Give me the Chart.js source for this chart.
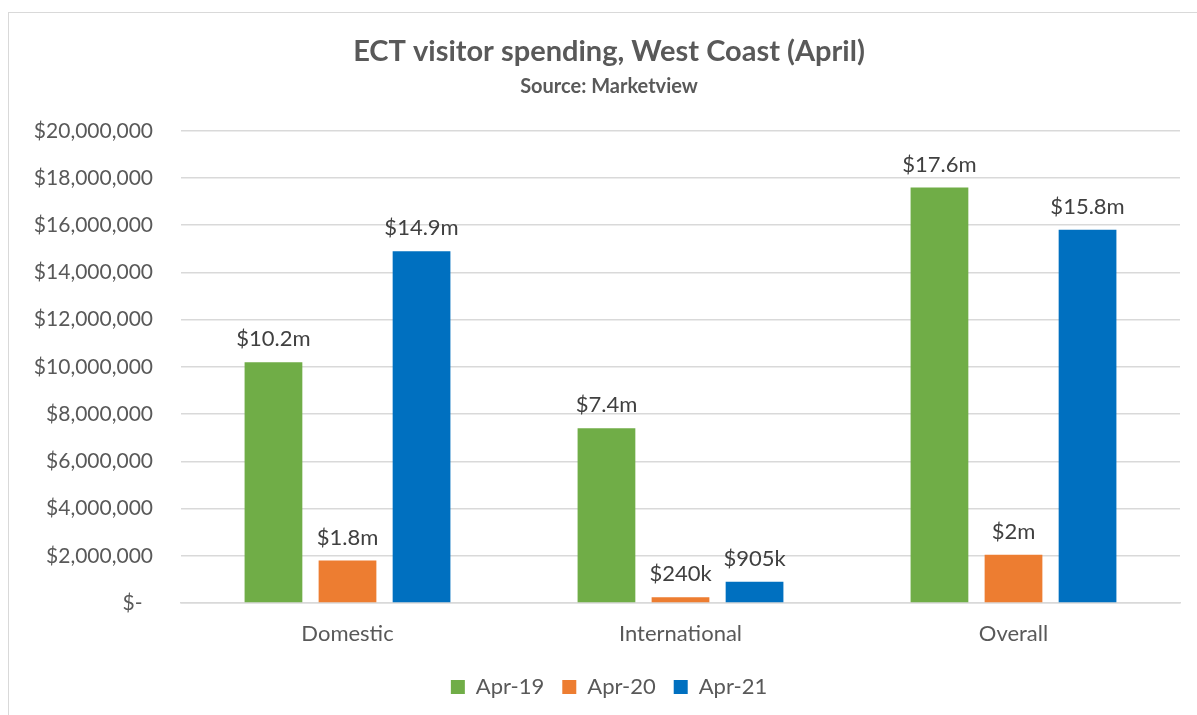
<!DOCTYPE html>
<html>
<head>
<meta charset="utf-8">
<script src="https://cdn.jsdelivr.net/npm/chart.js@4.4.1/dist/chart.umd.min.js"></script>
<style>
  html, body { margin: 0; padding: 0; background: #ffffff; overflow: hidden; }
  #frame { position: absolute; left: 8px; top: 12px; width: 1200px; height: 720px; border: 1px solid #d9d9d9; background: #fff; }
  #frame canvas { display: block; }
</style>
</head>
<body>
<div id="frame"><canvas id="c" width="1200" height="720"></canvas></div>
<script>
const categories = ["Domestic", "International", "Overall"];
const seriesNames = ["Apr-19", "Apr-20", "Apr-21"];
const apr19 = [10200000, 7400000, 17600000];
const apr20 = [1800000, 240000, 2040000];
const apr21 = [14900000, 905000, 15805000];
const yTickMax = 20000000;
const yTickStep = 2000000;

const colors = ["#70AD47", "#ED7D31", "#0070C0"];
const FONT = "Lato, 'Open Sans', sans-serif";
const TEXT = "#595959";

function money(v) {
  if (v === 0) return "$-\u2002";
  return "$" + Math.round(v).toLocaleString("en-US");
}
function shortMoney(v) {
  if (v >= 1000000) return "$" + (Math.round(v / 100000) / 10) + "m";
  return "$" + Math.round(v / 1000) + "k";
}

const dataLabels = {
  id: "dataLabels",
  afterDatasetsDraw(chart) {
    const ctx = chart.ctx;
    ctx.save();
    ctx.font = "22px " + FONT;
    ctx.fillStyle = "#404040";
    ctx.textAlign = "center";
    ctx.textBaseline = "bottom";
    chart.data.datasets.forEach((ds, i) => {
      const meta = chart.getDatasetMeta(i);
      meta.data.forEach((el, j) => {
        ctx.fillText(shortMoney(ds.data[j]), el.x, el.y - 12);
      });
    });
    ctx.restore();
  }
};

new Chart(document.getElementById("c"), {
  type: "bar",
  data: {
    labels: categories,
    datasets: [
      { label: seriesNames[0], data: apr19, backgroundColor: colors[0] },
      { label: seriesNames[1], data: apr20, backgroundColor: colors[1] },
      { label: seriesNames[2], data: apr21, backgroundColor: colors[2] }
    ]
  },
  options: {
    responsive: false,
    animation: false,
    devicePixelRatio: 1,
    layout: { padding: { left: 0, right: 0, top: 0, bottom: 25 } },
    datasets: { bar: { categoryPercentage: 0.667, barPercentage: 0.78 } },
    scales: {
      x: {
        grid: { display: false, drawTicks: false },
        border: { display: true, color: "#d9d9d9", width: 1.5 },
        ticks: { color: TEXT, font: { family: FONT, size: 22 }, padding: 18 },
        afterFit(s) { s.height = 55; }
      },
      y: {
        min: 0, max: yTickMax,
        grid: { color: "#d9d9d9", lineWidth: 1.5, drawTicks: false },
        border: { display: false },
        ticks: {
          stepSize: yTickStep,
          color: TEXT,
          font: { family: FONT, size: 21 },
          padding: 28,
          callback: (v) => money(v)
        },
        afterFit(s) { s.width = 172; }
      },
      yRight: {
        position: "right",
        display: true,
        min: 0, max: yTickMax,
        grid: { display: false, drawTicks: false },
        border: { display: false },
        ticks: { display: false },
        afterFit(s) { s.width = 29; }
      }
    },
    plugins: {
      title: {
        display: true,
        text: "ECT visitor spending, West Coast (April)",
        color: TEXT,
        font: { family: FONT, size: 29, weight: "bold" },
        padding: { top: 21, bottom: 0 }
      },
      subtitle: {
        display: true,
        text: "Source: Marketview",
        color: TEXT,
        font: { family: FONT, size: 20, weight: "bold" },
        padding: { top: 6, bottom: 32 }
      },
      legend: {
        position: "bottom",
        labels: {
          color: TEXT,
          font: { family: FONT, size: 22 },
          boxWidth: 14, boxHeight: 14,
          padding: 18
        }
      },
      tooltip: { enabled: false }
    }
  },
  plugins: [dataLabels]
});
</script>
</body>
</html>
